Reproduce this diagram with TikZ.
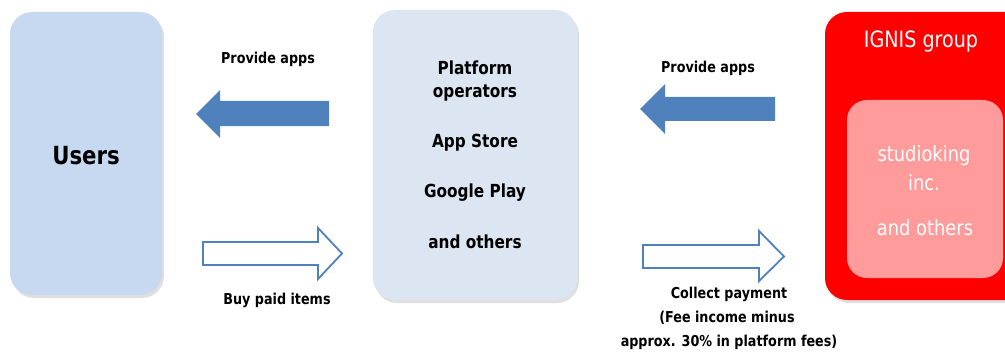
\documentclass[tikz,border=0pt]{standalone}
\usepackage{fontspec}
\setmainfont{DejaVu Sans}[FakeStretch=0.85]
\usetikzlibrary{shadows}
\definecolor{usersblue}{HTML}{C6D9F1}
\definecolor{platblue}{HTML}{DCE6F2}
\definecolor{arrowblue}{HTML}{4F81BD}
\definecolor{ignisred}{HTML}{FF0000}
\definecolor{innerpink}{HTML}{FF9B9B}
\tikzset{
  box/.style={rounded corners=22pt, draw=none, drop shadow={opacity=0.25, shadow xshift=2pt, shadow yshift=-3pt}},
  solidarrow/.style={fill=arrowblue, draw=none},
  hollowarrow/.style={fill=white, draw=arrowblue, line width=1.8pt},
  lbl/.style={font=\bfseries\fontsize{15}{18}\selectfont, align=center, inner sep=0pt},
  plat/.style={font=\bfseries\fontsize{18}{22}\selectfont, inner sep=0pt},
  wtxt/.style={font=\fontsize{21}{25}\selectfont, text=white, inner sep=0pt},
}
\begin{document}
\begin{tikzpicture}[x=1pt,y=-1pt]
\clip (0,0) rectangle (1005,353);
\fill[white] (0,0) rectangle (1005,353);
% boxes
\node[box, fill=usersblue, minimum width=152pt, minimum height=283pt] (users) at (86,153.5) {};
\node[box, fill=platblue, minimum width=204pt, minimum height=290pt] (plat) at (475,155) {};
\node[box, fill=ignisred, minimum width=205pt, minimum height=288pt] (ignis) at (927.5,156) {};
\node[rounded corners=20pt, fill=innerpink, minimum width=156pt, minimum height=178pt] (inner) at (925,189) {};
% texts in boxes
\node[font=\bfseries\fontsize{25}{30}\selectfont, inner sep=0pt] (tusers) at (86,156) {Users};
\node[plat] (p1) at (475,68) {Platform};
\node[plat] (p2) at (475,93) {operators};
\node[plat] (p3) at (475,143) {App Store};
\node[plat] (p4) at (475,193) {Google Play};
\node[plat] (p5) at (475,242) {and others};
\node[wtxt, font=\fontsize{22.5}{27}\selectfont] (tignis) at (921,41) {IGNIS group};
\node[wtxt] (s1) at (924,156) {studioking};
\node[wtxt] (s2) at (924,183) {inc.};
\node[wtxt] (s3) at (925,228) {and others};
% arrows
\path[solidarrow] (329,101) -- (220,101) -- (220,90) -- (196,114) -- (220,138) -- (220,126) -- (329,126) -- cycle;
\path[solidarrow] (775,97) -- (665,97) -- (665,84) -- (640,109) -- (665,134) -- (665,121) -- (775,121) -- cycle;
\draw[hollowarrow, line join=miter] (203,242) -- (318,242) -- (318,228) -- (342,253.5) -- (318,279) -- (318,265) -- (203,265) -- cycle;
\draw[hollowarrow, line join=miter] (643,245) -- (759,245) -- (759,231) -- (784,256.5) -- (759,281) -- (759,268) -- (643,268) -- cycle;
% labels
\node[lbl] (l1) at (268,59) {Provide apps};
\node[lbl] (l2) at (708,68) {Provide apps};
\node[lbl] (l3) at (277,300) {Buy paid items};
\node[lbl] (l4) at (729,294) {Collect payment};
\node[lbl] (l5) at (727,318) {(Fee income minus};
\node[lbl] (l6) at (729,342) {approx. 30\% in platform fees)};
\end{tikzpicture}
\end{document}
